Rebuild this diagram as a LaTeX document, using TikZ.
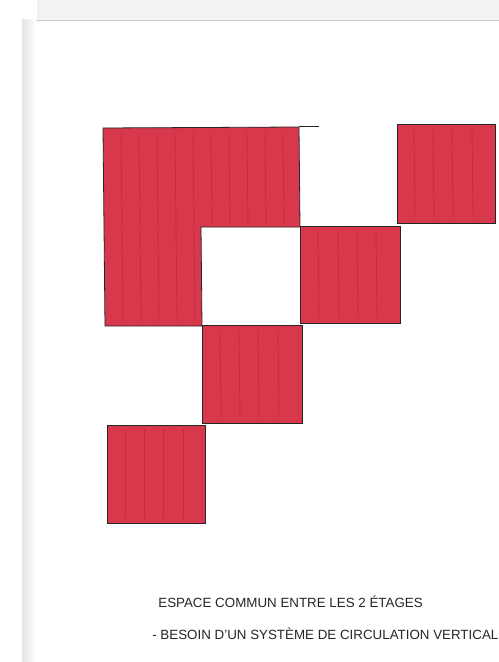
\documentclass[tikz,border=0pt]{standalone}
\usepackage{fontspec}
\setsansfont{Liberation Sans}
\definecolor{marker}{RGB}{216,56,76}
\definecolor{streak}{RGB}{180,28,50}
\tikzset{
  block/.style={draw=black!85, line width=0.45pt, fill=marker},
  streaks/.style={streak, line width=0.5pt, opacity=0.45},
  note/.style={anchor=west, inner sep=0pt, text=black!85,
    font=\sffamily\fontsize{7.6}{8}\selectfont}
}

\begin{document}
\begin{tikzpicture}[x=0.02cm, y=-0.02cm]
  % page
  \useasboundingbox (0,0) rectangle (499,662);
  \fill[white] (0,0) rectangle (499,662);
  \fill[gray!10] (37,0) rectangle (499,20);
  \draw[gray!40] (22,20) -- (499,20);
  \shade[left color=gray!22, right color=white] (22,20) rectangle (36,662);

  % L-shaped block
  \draw[block] (103,128) -- (299,127) -- (300,227) -- (201,227) -- (202,326) -- (105,326) -- cycle;
  \draw[black!85, line width=0.45pt] (299,126) -- (319,126);
  \begin{scope}
    \clip (103,128) -- (299,127) -- (300,227) -- (201,227) -- (202,326) -- (105,326) -- cycle;
    \foreach \x in {121,139,157,175,193,211,229,247,265,283}
      \draw[streaks] (\x,132) -- (\x+2,322);
  \end{scope}

  % top right block
  \draw[block] (397,124) rectangle (495,223);
  \foreach \x in {414,433,452,472}
    \draw[streaks] (\x,128) -- (\x+1,219);

  % middle block
  \draw[block] (300,226) rectangle (400,323);
  \foreach \x in {318,338,357,376}
    \draw[streaks] (\x,230) -- (\x+1,319);

  % lower block
  \draw[block] (202,325) rectangle (302,423);
  \foreach \x in {220,239,258,278}
    \draw[streaks] (\x,329) -- (\x+1,419);

  % bottom left block
  \draw[block] (107,425) rectangle (205,523);
  \foreach \x in {125,144,163,183}
    \draw[streaks] (\x,429) -- (\x,519);

  % notes
  \node[note] (title) at (158,602) {ESPACE COMMUN ENTRE LES 2 ÉTAGES};
  \node[note] (need) at (152,634) {- BESOIN D'UN SYSTÈME DE CIRCULATION VERTICAL};
\end{tikzpicture}
\end{document}
